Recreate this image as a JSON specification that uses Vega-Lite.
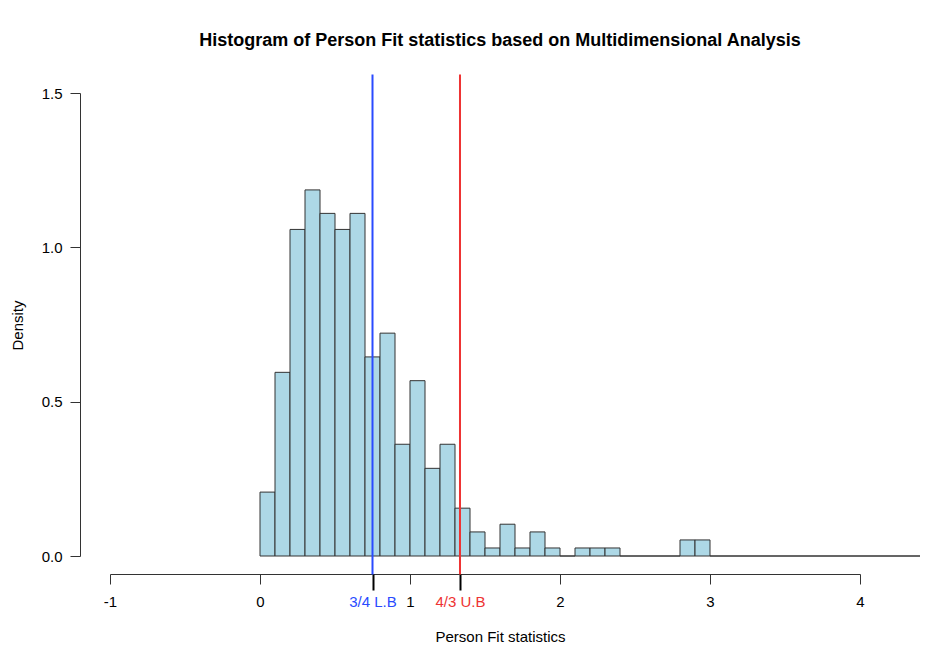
{
  "$schema": "https://vega.github.io/schema/vega-lite/v6.json",
  "width": 750,
  "height": 463,
  "autosize": "none",
  "padding": {"left": 110, "top": 93, "right": 80, "bottom": 104},
  "background": "white",
  "config": {
    "view": {"stroke": null},
    "font": "Liberation Sans"
  },
  "title": {
    "text": "Histogram of Person Fit statistics based on Multidimensional Analysis",
    "font": "Liberation Sans",
    "fontSize": 18,
    "fontWeight": "bold",
    "color": "#000",
    "anchor": "middle",
    "dx": 15,
    "offset": 23
  },
  "datasets": {
    "bins": [
      {"start": 0.0, "end": 0.1, "density": 0.207},
      {"start": 0.1, "end": 0.2, "density": 0.595},
      {"start": 0.2, "end": 0.3, "density": 1.058},
      {"start": 0.3, "end": 0.4, "density": 1.186},
      {"start": 0.4, "end": 0.5, "density": 1.110},
      {"start": 0.5, "end": 0.6, "density": 1.058},
      {"start": 0.6, "end": 0.7, "density": 1.110},
      {"start": 0.7, "end": 0.8, "density": 0.645},
      {"start": 0.8, "end": 0.9, "density": 0.722},
      {"start": 0.9, "end": 1.0, "density": 0.362},
      {"start": 1.0, "end": 1.1, "density": 0.568},
      {"start": 1.1, "end": 1.2, "density": 0.284},
      {"start": 1.2, "end": 1.3, "density": 0.362},
      {"start": 1.3, "end": 1.4, "density": 0.155},
      {"start": 1.4, "end": 1.5, "density": 0.078},
      {"start": 1.5, "end": 1.6, "density": 0.026},
      {"start": 1.6, "end": 1.7, "density": 0.103},
      {"start": 1.7, "end": 1.8, "density": 0.026},
      {"start": 1.8, "end": 1.9, "density": 0.078},
      {"start": 1.9, "end": 2.0, "density": 0.026},
      {"start": 2.0, "end": 2.1, "density": 0},
      {"start": 2.1, "end": 2.2, "density": 0.026},
      {"start": 2.2, "end": 2.3, "density": 0.026},
      {"start": 2.3, "end": 2.4, "density": 0.026},
      {"start": 2.4, "end": 2.5, "density": 0},
      {"start": 2.5, "end": 2.6, "density": 0},
      {"start": 2.6, "end": 2.7, "density": 0},
      {"start": 2.7, "end": 2.8, "density": 0},
      {"start": 2.8, "end": 2.9, "density": 0.052},
      {"start": 2.9, "end": 3.0, "density": 0.052},
      {"start": 3.0, "end": 3.1, "density": 0},
      {"start": 3.1, "end": 3.2, "density": 0},
      {"start": 3.2, "end": 3.3, "density": 0},
      {"start": 3.3, "end": 3.4, "density": 0},
      {"start": 3.4, "end": 3.5, "density": 0},
      {"start": 3.5, "end": 3.6, "density": 0},
      {"start": 3.6, "end": 3.7, "density": 0},
      {"start": 3.7, "end": 3.8, "density": 0},
      {"start": 3.8, "end": 3.9, "density": 0},
      {"start": 3.9, "end": 4.0, "density": 0},
      {"start": 4.0, "end": 4.1, "density": 0},
      {"start": 4.1, "end": 4.2, "density": 0},
      {"start": 4.2, "end": 4.3, "density": 0},
      {"start": 4.3, "end": 4.4, "density": 0}
    ],
    "bounds": [
      {"pos": 0.75, "name": "3/4 L.B", "top": 1.56, "bottom": -0.06},
      {"pos": 1.3333, "name": "4/3 U.B", "top": 1.56, "bottom": -0.06}
    ]
  },
  "layer": [
    {
      "data": {"name": "bins"},
      "mark": {"type": "rect", "fill": "#ADD8E6", "stroke": "#333", "strokeWidth": 1},
      "encoding": {
        "x": {
          "field": "start", "type": "quantitative",
          "scale": {"domain": [-1, 4], "nice": false, "zero": false},
          "axis": {
            "orient": "bottom",
            "values": [-1, 0, 1, 2, 3, 4],
            "labelExpr": "'' + datum.value",
            "offset": 18,
            "grid": false,
            "domainColor": "#333",
            "tickColor": "#333",
            "tickSize": 10,
            "labelFontSize": 15,
            "labelColor": "#000",
            "labelPadding": 10,
            "labelFlush": false,
            "title": "Person Fit statistics",
            "titleFontSize": 15,
            "titleFontWeight": "normal",
            "titleColor": "#000",
            "titleX": 390,
            "titleY": 62,
            "titleBaseline": "middle",
            "titleAnchor": "middle"
          }
        },
        "x2": {"field": "end"},
        "y": {
          "field": "density", "type": "quantitative",
          "scale": {"domain": [0, 1.5], "nice": false, "zero": false},
          "axis": {
            "orient": "left",
            "values": [0, 0.5, 1, 1.5],
            "format": ".1f",
            "offset": 30,
            "grid": false,
            "domainColor": "#333",
            "tickColor": "#333",
            "tickSize": 10,
            "labelFontSize": 15,
            "labelColor": "#000",
            "labelPadding": 8,
            "title": "Density",
            "titleFontSize": 15,
            "titleFontWeight": "normal",
            "titleColor": "#000",
            "titleAngle": 270,
            "titleX": -63,
            "titleY": 232,
            "titleBaseline": "middle",
            "titleAnchor": "middle"
          }
        },
        "y2": {"datum": 0}
      }
    },
    {
      "data": {"name": "bounds"},
      "mark": {"type": "rule", "strokeWidth": 2},
      "encoding": {
        "x": {
          "field": "pos", "type": "quantitative",
          "axis": {
            "orient": "bottom",
            "values": [0.75, 1.3333],
            "labelExpr": "datum.value < 1 ? '3/4 L.B' : '4/3 U.B'",
            "offset": 18,
            "domain": false,
            "grid": false,
            "tickColor": "#000",
            "tickWidth": 2,
            "tickSize": 16,
            "labelFontSize": 15,
            "labelColor": {"expr": "datum.value < 1 ? '#2a4bff' : '#ee3333'"},
            "labelPadding": 4,
            "labelFlush": false,
            "title": null
          }
        },
        "y": {"field": "top", "type": "quantitative", "axis": null},
        "y2": {"field": "bottom"},
        "color": {
          "field": "name", "type": "nominal",
          "scale": {"domain": ["3/4 L.B", "4/3 U.B"], "range": ["#2a4bff", "#ee3333"]},
          "legend": null
        }
      }
    }
  ],
  "resolve": {"axis": {"x": "independent", "y": "independent"}}
}
